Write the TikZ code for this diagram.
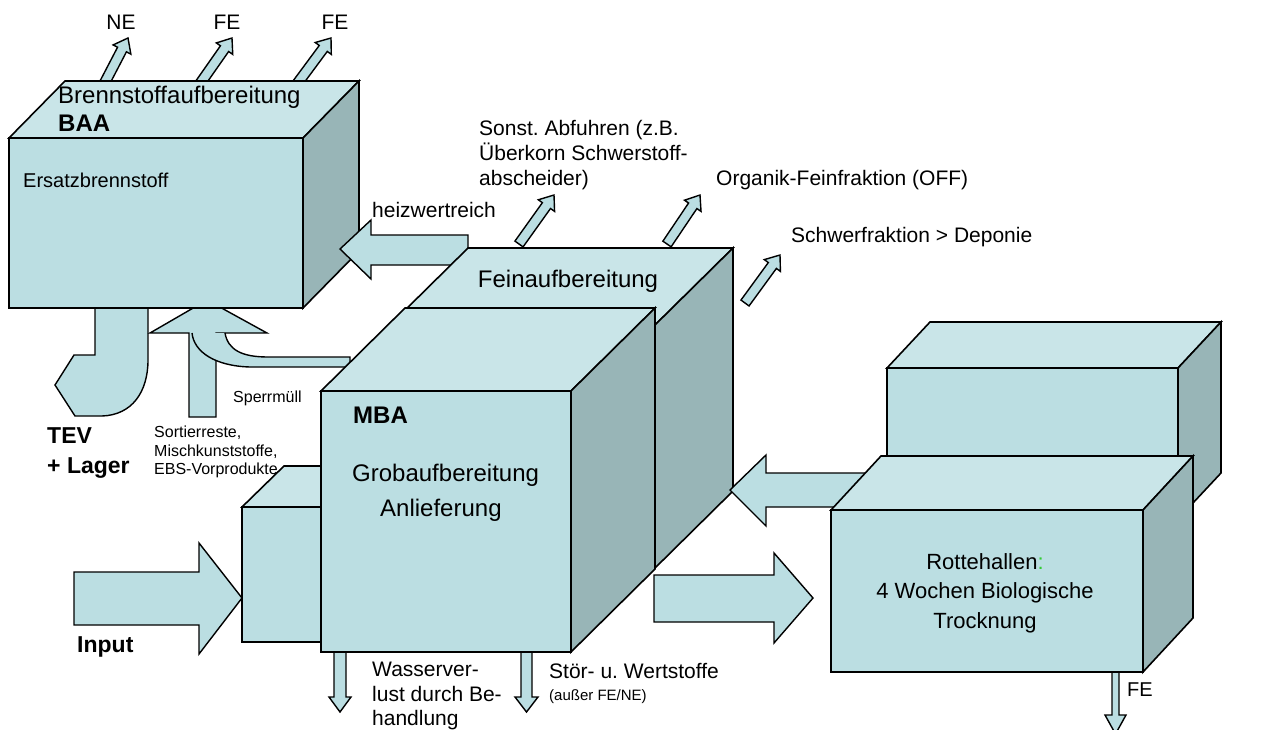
\documentclass[tikz,border=0pt]{standalone}
\usepackage{fontspec}
\setmainfont{Liberation Sans}
\usetikzlibrary{calc}
\definecolor{cfront}{HTML}{BBDEE2}
\definecolor{ctop}{HTML}{C9E5E8}
\definecolor{cside}{HTML}{98B5B7}
\definecolor{cgreen}{HTML}{33CC33}
\tikzset{
  boxline/.style={draw=black, line width=1.6pt, line join=miter},
  arrowst/.style={draw=black, fill=cfront, line width=1.4pt, line join=miter},
  lbl/.style={inner sep=0pt, anchor=west, align=left, font=\fontsize{21}{25}\selectfont},
  biglbl/.style={inner sep=0pt, anchor=west, align=left, font=\fontsize{24}{29}\selectfont},
  smalllbl/.style={inner sep=0pt, anchor=west, align=left, font=\fontsize{16}{18.5}\selectfont},
  boldlbl/.style={inner sep=0pt, anchor=west, align=left, font=\bfseries\fontsize{23}{30}\selectfont},
}
\newcommand\drawbox[6]{%
  \draw[boxline, fill=cfront] (#1,#2) rectangle ({#1+#3},{#2+#4});
  \draw[boxline, fill=ctop] (#1,#2) -- ({#1+#5},{#2-#6}) -- ({#1+#3+#5},{#2-#6}) -- ({#1+#3},#2) -- cycle;
  \draw[boxline, fill=cside] ({#1+#3},#2) -- ({#1+#3+#5},{#2-#6}) -- ({#1+#3+#5},{#2+#4-#6}) -- ({#1+#3},{#2+#4}) -- cycle;
}
\newcommand\slantarrow[2]{%
  \coordinate (hb) at ($(#2)!13pt!(#1)$);
  \draw[arrowst] ($(#1)!5pt!90:(#2)$) -- ($(hb)!5pt!90:(#2)$) -- ($(hb)!10pt!90:(#2)$) -- (#2)
    -- ($(hb)!10pt!-90:(#2)$) -- ($(hb)!5pt!-90:(#2)$) -- ($(#1)!5pt!-90:(#2)$) -- cycle;
}
\begin{document}
\frenchspacing
\begin{tikzpicture}[x=1pt, y=-1pt]
\useasboundingbox[fill=white] (0,0) rectangle (1261,729);

% arrows below BAA (drawn before the box)
\draw[arrowst] (95,300) -- (95,355) -- (74,355) -- (55,385) -- (75,416) -- (102,416)
  .. controls (132,415) and (148,392) .. (148,360) -- (148,300) -- cycle;
\draw[arrowst] (189,417) -- (189,333) -- (150,333) -- (207,300) -- (267,333) -- (216,333) -- (216,417) -- cycle;
\fill[cfront] (225,333) .. controls (228,350) and (242,357) .. (268,357) -- (350,357) -- (350,367) -- (250,367)
  .. controls (215,366) and (194,352) .. (192,333) -- cycle;
\draw[line width=1.4pt] (225,333) .. controls (228,350) and (242,357) .. (268,357) -- (350,357) -- (350,367) -- (250,367)
  .. controls (215,366) and (194,352) .. (192,333);

% arrows on top of BAA
\coordinate (t1) at (102,88); \coordinate (p1) at (128,38);
\coordinate (t2) at (197,88); \coordinate (p2) at (232,38);
\coordinate (t3) at (294,88); \coordinate (p3) at (331,38);
\slantarrow{t1}{p1}
\slantarrow{t2}{p2}
\slantarrow{t3}{p3}

% BAA box
\drawbox{9}{138}{294}{170}{56}{57}

% heizwertreich arrow
\draw[arrowst] (340,249) -- (371,220) -- (371,235) -- (468,235) -- (468,265) -- (371,265) -- (371,279) -- cycle;

% Feinaufbereitung box
\drawbox{390}{325}{265}{243}{78}{77}

% arrows on top of Feinaufbereitung
\coordinate (t4) at (519,244); \coordinate (p4) at (554,195);
\coordinate (t5) at (667,244); \coordinate (p5) at (700,195);
\coordinate (t6) at (745,303); \coordinate (p6) at (780,255);
\slantarrow{t4}{p4}
\slantarrow{t5}{p5}
\slantarrow{t6}{p6}

% small delivery box
\drawbox{242}{507}{79}{135}{42}{41}

% down arrows under MBA
\draw[arrowst] (334,645) -- (334,697) -- (329,697) -- (340,712) -- (351,697) -- (346,697) -- (346,645) -- cycle;
\draw[arrowst] (521,645) -- (521,697) -- (515,697) -- (526.5,712) -- (538,697) -- (532,697) -- (532,645) -- cycle;

% MBA box
\drawbox{321}{391}{250}{261}{84}{83}

% Input arrow
\draw[arrowst] (74,572) -- (199,572) -- (199,543) -- (242,598) -- (199,654) -- (199,625) -- (74,625) -- cycle;

% MBA -> Rottehallen
\draw[arrowst] (654,575) -- (774,575) -- (774,553) -- (813,598) -- (774,643) -- (774,622) -- (654,622) -- cycle;

% back right box
\drawbox{887}{368}{291}{151}{43}{46}

% Rottehallen -> MBA
\draw[arrowst] (730,490) -- (766,455) -- (766,473) -- (875,473) -- (875,507) -- (766,507) -- (766,526) -- cycle;

% FE down arrow
\draw[arrowst] (1112,665) -- (1112,715) -- (1105,715) -- (1115.5,734) -- (1126,715) -- (1119,715) -- (1119,665) -- cycle;

% Rottehallen box
\drawbox{831}{510}{312}{162}{50}{54}

% labels
\node[lbl, anchor=center] (lne) at (121,22) {NE};
\node[lbl, anchor=center] (lfe1) at (227,22) {FE};
\node[lbl, anchor=center] (lfe2) at (335,22) {FE};
\node[biglbl] (lbaa1) at (58,97) {Brennstoffaufbereitung};
\node[boldlbl, font=\bfseries\fontsize{24}{29}\selectfont] (lbaa2) at (58,123) {BAA};
\node[lbl, font=\fontsize{20}{24}\selectfont] (lebs) at (23,180) {Ersatzbrennstoff};
\node[lbl] (lheiz) at (372,210) {heizwertreich};
\node[lbl] (lsonst) at (479,155) {Sonst. Abfuhren (z.B.\\Überkorn Schwerstoff-\\abscheider)};
\node[lbl] (loff) at (716,180) {Organik-Feinfraktion (OFF)};
\node[lbl] (lschwer) at (791,237) {Schwerfraktion > Deponie};
\node[biglbl, anchor=center] (lfein) at (568,281) {Feinaufbereitung};
\node[boldlbl, font=\bfseries\fontsize{24}{29}\selectfont] (lmba) at (353,415) {MBA};
\node[biglbl] (lgrob) at (352,475) {Grobaufbereitung};
\node[biglbl] (lanl) at (380,510) {Anlieferung};
\node[smalllbl] (lsperr) at (233,398) {Sperrmüll};
\node[smalllbl] (lsort) at (154,452) {Sortierreste,\\Mischkunststoffe,\\EBS-Vorprodukte};
\node[boldlbl] (ltev) at (47,453) {TEV\\+ Lager};
\node[boldlbl] (linput) at (77,647) {Input};
\node[lbl, font=\fontsize{21}{24.5}\selectfont] (lwasser) at (372,696) {Wasserver-\\lust durch Be-\\handlung};
\node[lbl] (lstoer) at (549,671) {Stör- u. Wertstoffe};
\node[lbl, font=\fontsize{15}{18}\selectfont] (lausser) at (549,697) {(außer FE/NE)};
\node[lbl, anchor=center, align=center, font=\fontsize{22}{29.5}\selectfont] (lrotte) at (985,593)
  {Rottehallen{\color{cgreen}:}\\4 Wochen Biologische\\Trocknung};
\node[lbl, font=\fontsize{20}{24}\selectfont] (lfe3) at (1127,690) {FE};
\end{tikzpicture}
\end{document}
